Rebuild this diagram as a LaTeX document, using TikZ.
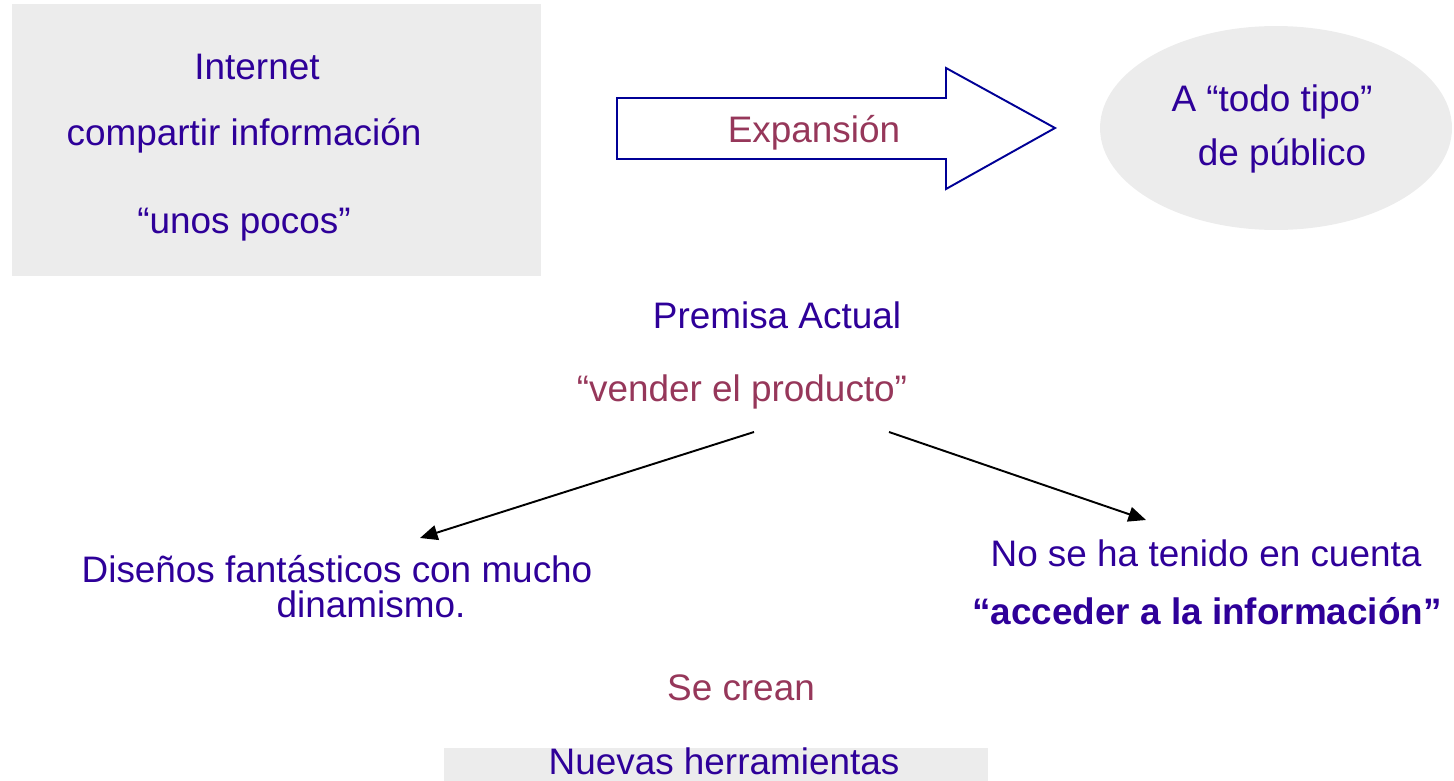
\documentclass[tikz,border=0pt]{standalone}
\usepackage{fontspec}
\setmainfont{Liberation Sans}
\usepackage{tikz}
\usetikzlibrary{positioning,arrows.meta}
\definecolor{tinta}{RGB}{46,0,153}
\definecolor{vino}{RGB}{150,55,90}
\definecolor{gris}{RGB}{236,236,236}
\definecolor{contorno}{RGB}{0,0,150}
\tikzstyle{txt} = [anchor=base, inner sep=0pt, text=tinta, font=\fontsize{21}{25}\selectfont]
\tikzstyle{txtvino} = [txt, text=vino]
\tikzstyle{arrow} = [line width=1.1pt,-{Triangle[length=10pt,width=8.5pt]}]

\begin{document}
\begin{tikzpicture}[x=0.02cm, y=-0.02cm]
    \useasboundingbox (0,0) rectangle (1454,781);
    % cuadro de la izquierda
    \fill[gris] (12,4) rectangle (541,276);
    \node[txt] (internet) at (257,79) {Internet};
    \node[txt] (compartir) at (244,145) {compartir información};
    \node[txt] (pocos) at (244,233) {“unos pocos”};
    % flecha grande
    \draw[contorno, fill=white, line width=1.1pt, line join=miter] (617,98) -- (946,98) -- (946,68) -- (1055,128) -- (946,189) -- (946,159) -- (617,159) -- cycle;
    \node[txtvino] (expansion) at (814,142) {Expansión};
    % elipse
    \fill[gris] (1276,128) ellipse [x radius=3.52cm, y radius=2.04cm];
    \node[txt] (todo) at (1272,111) {A “todo tipo”};
    \node[txt] (publico) at (1282,165) {de público};
    % centro
    \node[txt] (premisa) at (777,328) {Premisa Actual};
    \node[txtvino] (vender) at (742,401) {“vender el producto”};
    \coordinate (ini izq) at (754,432);
    \coordinate (fin izq) at (420,538);
    \coordinate (ini der) at (889,432);
    \coordinate (fin der) at (1146,520);
    \draw[arrow] (ini izq) -- (fin izq);
    \draw[arrow] (ini der) -- (fin der);
    \node[txt] (disenos) at (337,582) {Diseños fantásticos con mucho};
    \node[txt] (dinamismo) at (371,617) {dinamismo.};
    \node[txt] (cuenta) at (1206,566) {No se ha tenido en cuenta};
    \node[txt, font=\fontsize{21}{25}\selectfont\bfseries] (acceder) at (1207,624) {“acceder a la información”};
    \node[txtvino] (crean) at (741,700) {Se crean};
    % barra de abajo
    \fill[gris] (444,748) rectangle (988,781);
    \node[txt] (nuevas) at (724,774) {Nuevas herramientas};
\end{tikzpicture}
\end{document}
